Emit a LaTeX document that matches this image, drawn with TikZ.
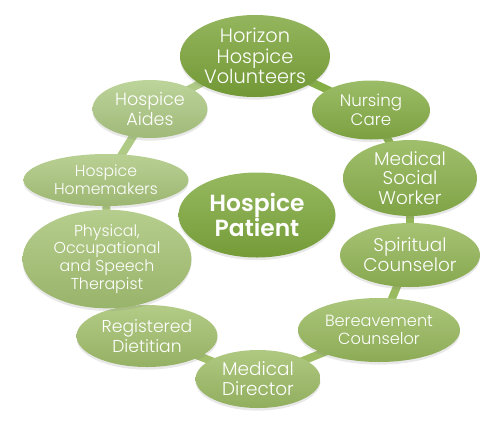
\documentclass[tikz,border=0pt]{standalone}
\usepackage{fontspec}
\setmainfont{Poppins}[UprightFont=* Light, BoldFont=* SemiBold]
\usepackage{tikz}
\usetikzlibrary{shapes.geometric,shadows,backgrounds}
\definecolor{cVol}{HTML}{7CA53A}
\definecolor{cPat}{HTML}{7FA93D}
\definecolor{cNur}{HTML}{86AE46}
\definecolor{cMsw}{HTML}{8BB14C}
\definecolor{cSpi}{HTML}{93B656}
\definecolor{cBer}{HTML}{99BA5E}
\definecolor{cDir}{HTML}{9EBD66}
\definecolor{cDie}{HTML}{A2C06C}
\definecolor{cThe}{HTML}{A6C374}
\definecolor{cHom}{HTML}{AAC67C}
\definecolor{cAid}{HTML}{AECA84}

\begin{document}
\begin{tikzpicture}[x=0.02cm, y=-0.02cm,
  bubble/.style={ellipse, inner sep=0pt, text=white, align=center,
    top color=#1!82!white, bottom color=#1!92!black,
    drop shadow={opacity=0.18, shadow xshift=0pt, shadow yshift=-1.5pt}},
  ovl/.style 2 args={minimum width=#1*0.02cm, minimum height=#2*0.02cm},
  txt/.style 2 args={font=\fontsize{#1}{#2}\selectfont},
  ring/.style={line width=4.5pt, color=#1}]
\useasboundingbox (0,0) rectangle (500,420);

% outer ring of care team
\node[bubble=cVol, ovl={150}{82}, txt={11}{11.6}] (vol) at (255,56) {Horizon\\Hospice\\Volunteers};
\node[bubble=cNur, ovl={118}{59}, txt={9.5}{11}] (nur) at (371,110) {Nursing\\Care};
\node[bubble=cMsw, ovl={134}{70}, txt={10.5}{11.3}] (msw) at (410,178) {Medical\\Social\\Worker};
\node[bubble=cSpi, ovl={140}{64}, txt={10.5}{11.5}] (spi) at (410,255) {Spiritual\\Counselor};
\node[bubble=cBer, ovl={162}{64}, txt={9.2}{10.5}] (ber) at (379,330) {Bereavement\\Counselor};
\node[bubble=cDir, ovl={125}{58}, txt={10.5}{11.5}] (dir) at (258,379) {Medical\\Director};
\node[bubble=cDie, ovl={141}{62}, txt={9.8}{11}] (die) at (147,336) {Registered\\Dietitian};
\node[bubble=cThe, ovl={169}{78}, txt={9}{10.2}] (the) at (107,259) {Physical,\\Occupational\\and Speech\\Therapist};
\node[bubble=cHom, ovl={165}{52}, txt={8.9}{10.2}] (hom) at (106,180) {Hospice\\Homemakers};
\node[bubble=cAid, ovl={115}{58}, txt={10}{11.2}] (aid) at (150,109) {Hospice\\Aides};

% patient in the middle
\node[bubble=cPat, ovl={157}{85}, font=\fontsize{13.3}{14.5}\selectfont\bfseries] (pat) at (257,215) {Hospice\\Patient};

% links between the bubbles
\begin{scope}[on background layer]
\foreach \a/\b/\c in {vol/nur/cNur, nur/msw/cMsw, msw/spi/cSpi, spi/ber/cBer, ber/dir/cDir,
  dir/die/cDie, die/the/cThe, the/hom/cHom, hom/aid/cAid, aid/vol/cAid}
  \draw[ring=\c] (\a.center) -- (\b.center);
\end{scope}
\end{tikzpicture}
\end{document}
